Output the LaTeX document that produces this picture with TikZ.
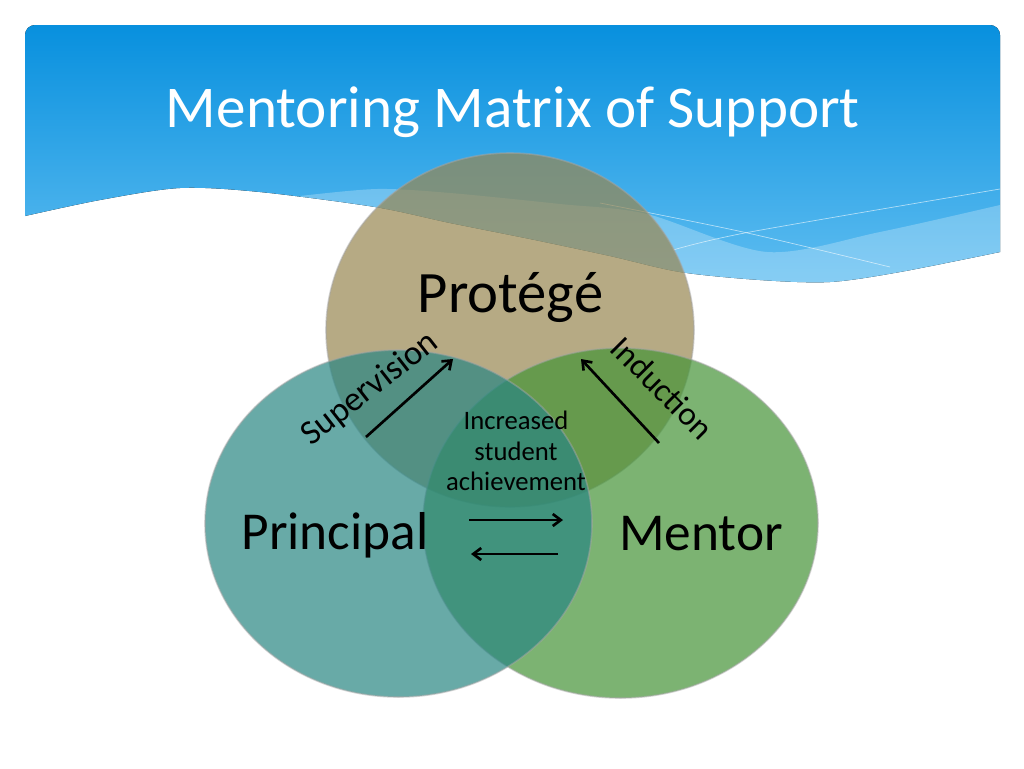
\documentclass[tikz,border=0pt]{standalone}
\usepackage{fontspec}
\setmainfont{Carlito}
\usetikzlibrary{arrows.meta}
\definecolor{hdrtop}{RGB}{8,144,222}
\definecolor{hdrbot}{RGB}{100,192,242}
\definecolor{protcol}{RGB}{152,134,81}
\definecolor{mentcol}{RGB}{69,148,55}
\definecolor{princol}{RGB}{41,134,131}
\begin{document}
\begin{tikzpicture}[x=0.75pt,y=-0.75pt,
        flow/.style={line width=2pt,-{Straight Barb[length=6pt,width=9pt]}},
        ring/.style={fill opacity=0.7,draw=black!35,draw opacity=0.5,line width=1.2pt}]
    \useasboundingbox (0,0) rectangle (1024,768);
    \fill[white] (0,0) rectangle (1024,768);
    % header band with wave
    \begin{scope}
        \clip (0,0) -- (1024,0) -- (1024,252) -- plot[smooth] coordinates {(1000,252) (900,272) (830,282) (760,280) (680,272) (610,256) (530,239) (450,223) (375,207) (260,192) (180,188) (100,200) (25,216)} -- (0,216) -- cycle;
        \fill[rounded corners=7.5pt,top color=hdrtop,bottom color=hdrbot] (25,25) rectangle (1000,300);
        \fill[white,opacity=0.25] plot[smooth] coordinates {(300,196) (377,189) (450,193) (560,204) (647,214) (767,252) (880,232) (1000,205)} -- (1000,300) -- (300,300) -- cycle;
        \draw[white,opacity=0.6,line width=0.5pt] plot[smooth] coordinates {(600,203) (743,232) (890,267)};
        \draw[white,opacity=0.6,line width=0.5pt] plot[smooth] coordinates {(673,250) (750,232) (1000,189)};
    \end{scope}

    \node[white,font=\fontsize{44.4}{53}\selectfont,anchor=base] (title) at (513,127) {Mentoring Matrix of Support};

    % the three circles
    \coordinate (protege) at (510,330);
    \coordinate (mentor) at (620.5,523);
    \coordinate (principal) at (398.5,523.5);
    \filldraw[ring,fill=protcol] (protege) ellipse [x radius=184,y radius=177];
    \filldraw[ring,fill=mentcol] (mentor) ellipse [x radius=197.5,y radius=175];
    \filldraw[ring,fill=princol] (principal) ellipse [x radius=193.5,y radius=173.5];

    \node[font=\fontsize{44}{53}\selectfont,anchor=base] (protlbl) at (510.5,312) {Protégé};
    \node[font=\fontsize{40}{48}\selectfont,anchor=base] (prinlbl) at (335,549) {Principal};
    \node[font=\fontsize{40}{48}\selectfont,anchor=base] (mentlbl) at (701,550) {Mentor};
    \node[font=\fontsize{20}{23}\selectfont,align=center,inner sep=0] (goal) at (516,451) {Increased\\student\\achievement};
    \node[font=\fontsize{26}{31}\selectfont,rotate=38] (suplbl) at (370,389) {Supervision};
    \node[font=\fontsize{25}{30}\selectfont,rotate=-45] (indlbl) at (662.5,388) {Induction};

    \coordinate (supS) at (366,437);
    \coordinate (supE) at (453,359);
    \coordinate (indS) at (659,443);
    \coordinate (indE) at (581,359);
    \coordinate (fwdS) at (469,520);
    \coordinate (fwdE) at (563,520);
    \coordinate (bckS) at (558,554);
    \coordinate (bckE) at (471,554);
    \draw[flow] (supS) -- (supE);
    \draw[flow] (indS) -- (indE);
    \draw[flow] (fwdS) -- (fwdE);
    \draw[flow] (bckS) -- (bckE);
\end{tikzpicture}
\end{document}
